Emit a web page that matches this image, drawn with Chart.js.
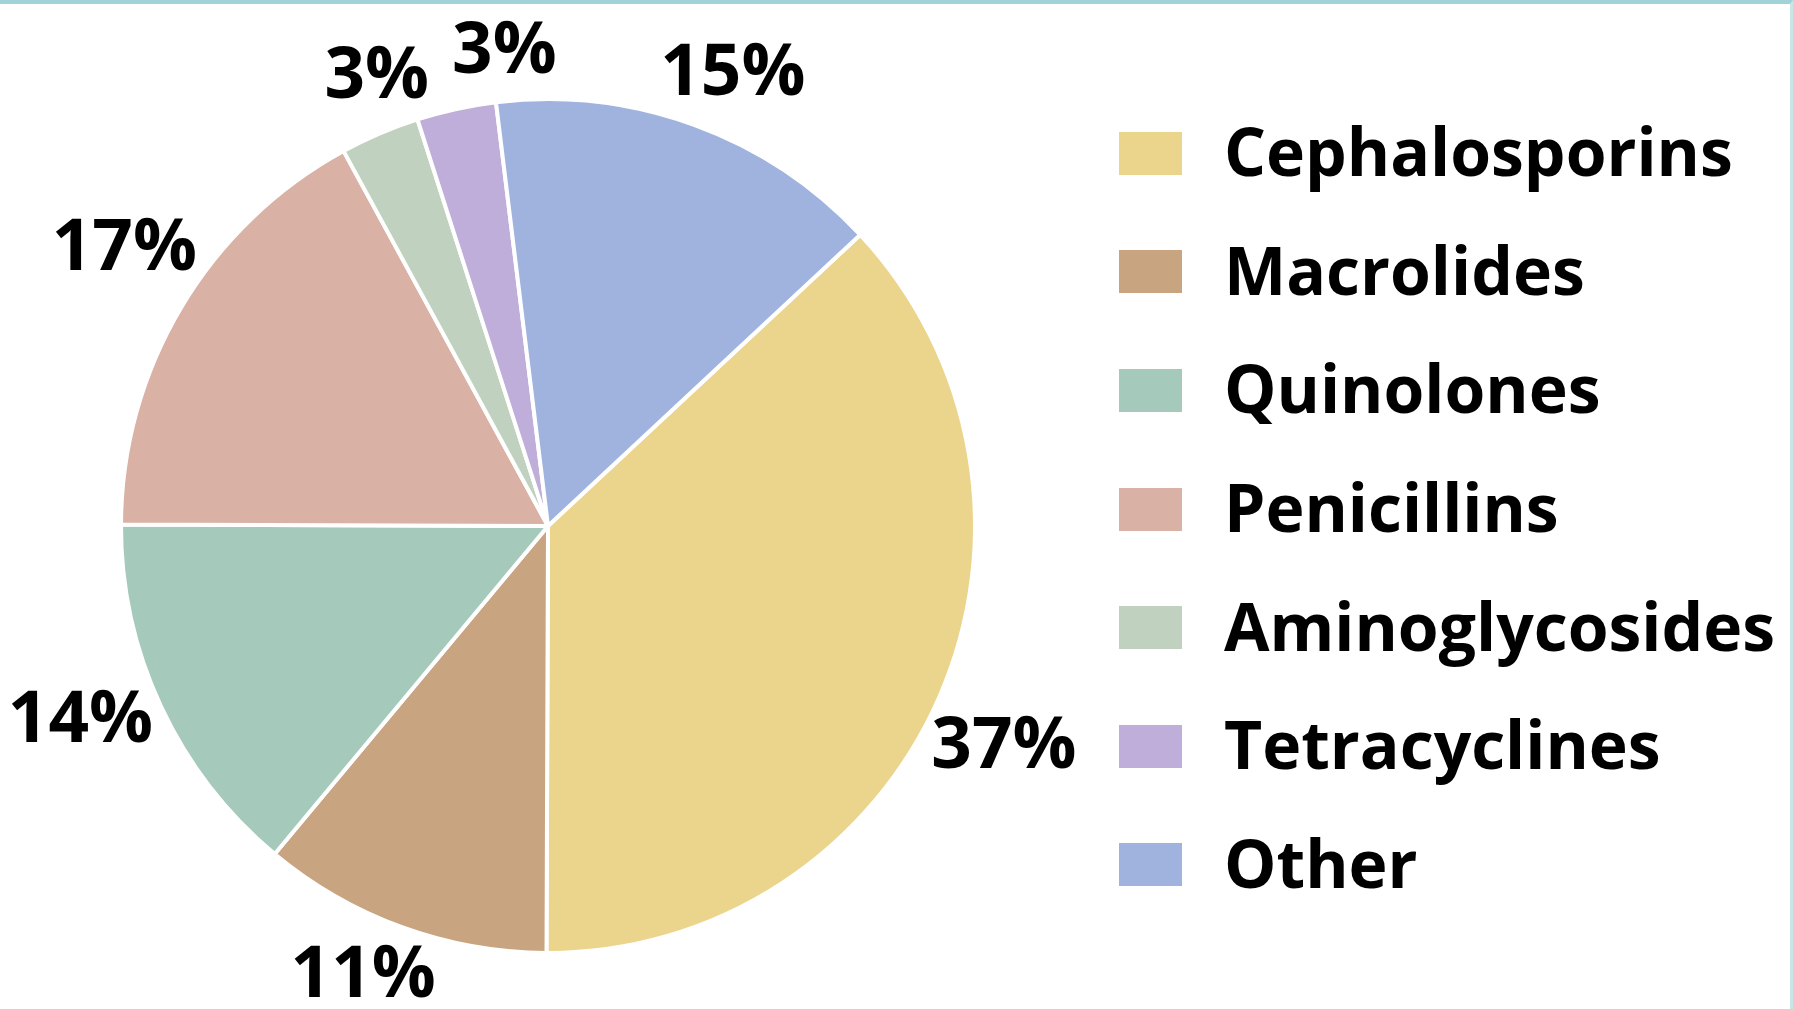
<!DOCTYPE html>
<html lang="en">
  <head>
    <meta charset="UTF-8">
    <title>Antibiotic classes</title>
    <script src="https://cdn.jsdelivr.net/npm/chart.js"></script>
    <style>
      html, body { margin: 0; padding: 0; background: #fff; }
      .frame {
        width: 1793px; height: 1009px; box-sizing: border-box;
        border-top: 4px solid #9fd3d7; border-right: 3px solid #c6e6e8;
        position: relative; overflow: hidden;
      }
      #pie { position: absolute; left: 0; top: -4px; }
      #legend {
        position: absolute; left: 1119px; top: 90px;
        list-style: none; margin: 0; padding: 0;
        font-family: "Open Sans", "Noto Sans", sans-serif;
        font-weight: bold; font-size: 66px; color: #000;
      }
      #legend li { display: flex; align-items: center; height: 118.6px; }
      #legend .sw { width: 63px; height: 43px; margin-right: 42px; flex: none; }
      #legend span.txt { line-height: 1; position: relative; top: -3px; }
    </style>
  </head>
  <body>
    <div class="frame">
      <canvas id="pie" width="1793" height="1009"></canvas>
      <ul id="legend"></ul>
    </div>
    <script>
      // data
      const classes = ['Cephalosporins', 'Macrolides', 'Quinolones', 'Penicillins', 'Aminoglycosides', 'Tetracyclines', 'Other'];
      const shares = [37, 11, 14, 17, 3, 3, 15];
      const colours = ['#ebd48b', '#c8a481', '#a5c9bb', '#d9b1a5', '#c0d2bf', '#bfaed9', '#a0b3de'];

      const FONT = '"Open Sans", "Noto Sans", sans-serif';

      // percent labels outside each slice, nudged apart when they collide
      const pctLabels = {
        id: 'pctLabels',
        afterDatasetsDraw(chart) {
          const ctx = chart.ctx;
          const arcs = chart.getDatasetMeta(0).data;
          ctx.save();
          ctx.font = 'bold 71px ' + FONT;
          ctx.fillStyle = '#000';
          ctx.textAlign = 'center';
          ctx.textBaseline = 'middle';
          const h = 50;
          let prev = null;
          arcs.forEach((arc, i) => {
            const p = arc.getProps(['x', 'y', 'startAngle', 'endAngle', 'outerRadius']);
            const mid = (p.startAngle + p.endAngle) / 2 + 0.04;
            const txt = shares[i] + '%';
            const w = ctx.measureText(txt).width;
            const cx = Math.cos(mid), cy = Math.sin(mid);
            const d = p.outerRadius + 14 + Math.abs(cx) * w * 0.42 + Math.abs(cy) * h / 2;
            let x = p.x + cx * d;
            let y = p.y + cy * d;
            if (prev) {
              let n = 0;
              while (n < 200 && Math.abs(x - prev.x) < (w + prev.w) / 2 + 22 && Math.abs(y - prev.y) < h + 4) {
                x += -cy * 2;
                y += cx * 2;
                n++;
              }
            }
            ctx.fillText(txt, x, y);
            prev = { x, y, w };
          });
          ctx.restore();
        }
      };

      const chart = new Chart(document.getElementById('pie'), {
        type: 'pie',
        data: {
          labels: classes,
          datasets: [{
            data: shares,
            backgroundColor: colours,
            borderColor: '#ffffff',
            borderWidth: 4
          }]
        },
        options: {
          responsive: false,
          animation: false,
          rotation: 47,
          layout: { padding: { top: 97, bottom: 54, left: 119, right: 816 } },
          plugins: {
            tooltip: { enabled: false },
            legend: { display: false }
          }
        },
        plugins: [pctLabels]
      });

      // html legend from the chart's own legend items
      const ul = document.getElementById('legend');
      chart.options.plugins.legend.labels.generateLabels(chart).forEach(item => {
        const li = document.createElement('li');
        const sw = document.createElement('span');
        sw.className = 'sw';
        sw.style.background = item.fillStyle;
        const t = document.createElement('span');
        t.className = 'txt';
        t.textContent = item.text;
        li.appendChild(sw);
        li.appendChild(t);
        ul.appendChild(li);
      });
    </script>
  </body>
</html>
